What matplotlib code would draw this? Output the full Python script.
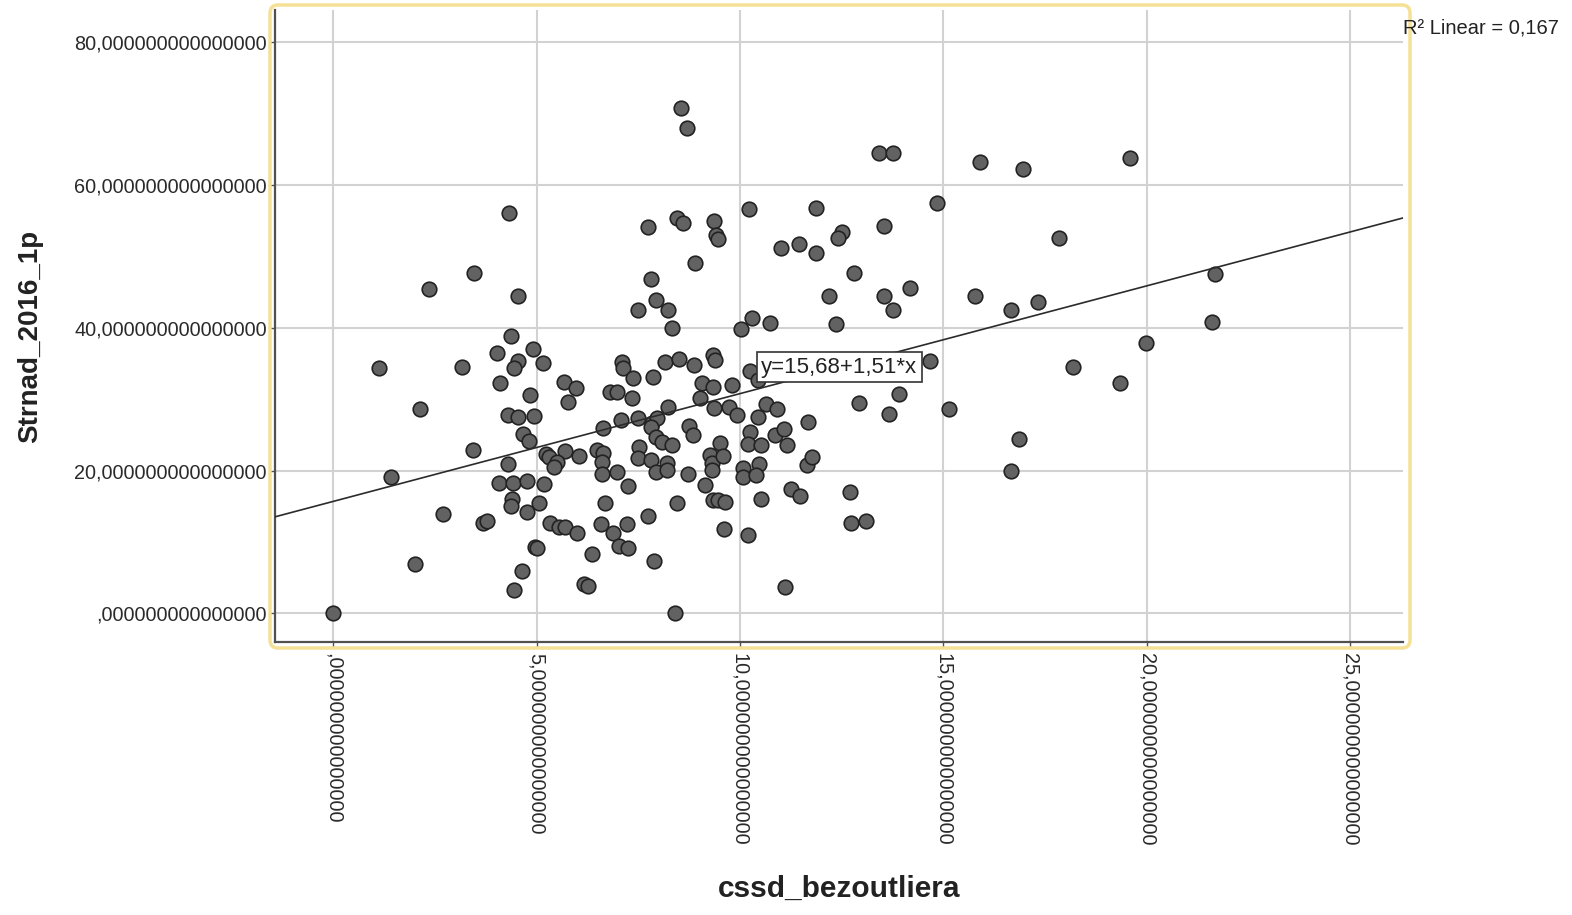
import numpy as np
import matplotlib
matplotlib.use("Agg")
import matplotlib.pyplot as plt
from matplotlib.patches import FancyBboxPatch
from matplotlib.ticker import FuncFormatter

X_NAME = "cssd_bezoutliera"
Y_NAME = "Strnad_2016_1p"
INTERCEPT = 15.68
SLOPE = 1.51
R2 = 0.167

# values
cssd = [
    4.32, 3.46, 2.35, 4.54,
    8.55, 8.70, 10.23, 11.87, 7.74, 8.46, 8.60, 9.37, 9.41, 9.46, 8.90, 11.01,
    11.46, 11.87, 12.51, 12.42, 12.81, 7.82, 7.94, 7.50, 8.23, 12.19,
    13.42, 13.77, 15.91, 16.97, 19.60, 14.85, 13.55, 14.19, 13.55, 13.77,
    15.79, 16.67, 17.34, 17.85,
    4.37, 4.03, 4.91, 4.54, 4.45, 5.16, 1.12, 3.17, 4.10, 5.68, 5.97, 4.84,
    5.77, 2.13, 4.30, 4.54, 4.94, 4.67, 4.81, 3.44, 5.23, 5.70, 6.04, 5.31,
    5.50, 5.43, 4.30,
    8.33, 10.03, 10.30, 10.74, 12.37, 7.10, 7.13, 7.37, 7.86, 8.16, 8.50, 8.87,
    9.34, 9.39, 10.25, 10.45, 6.81, 6.98, 7.35, 9.07, 9.34, 9.81, 9.02, 8.23,
    9.37, 9.73, 9.93, 10.64, 10.92, 10.45, 11.68, 12.93, 6.63, 7.08, 7.50, 7.84,
    7.96, 7.82, 7.94, 8.09, 8.33, 8.75, 8.85, 9.51, 10.25, 10.20, 10.52, 10.87,
    11.09, 11.16, 6.49, 6.63, 6.61, 7.52, 7.50, 7.82, 8.21, 9.27, 9.32, 9.59,
    10.08, 10.47, 11.65, 11.78,
    14.68, 18.20, 19.35, 19.99, 13.92, 13.67, 15.15, 16.87, 16.67,
    1.42, 4.08, 4.42, 4.77, 5.18, 4.40, 4.37, 4.77, 5.06, 2.70, 3.68, 3.78,
    5.33, 5.55, 5.70, 6.00, 4.96, 5.01, 2.01, 4.64, 4.45, 0.00,
    6.61, 6.98, 7.94, 8.21, 8.73, 9.32, 10.08, 10.40, 7.25, 9.14, 12.71, 6.68,
    8.46, 9.34, 9.46, 9.64, 10.52, 11.26, 11.48, 12.74, 6.59, 6.88, 7.23, 7.74,
    7.03, 7.25, 9.61, 10.20, 6.36, 7.89, 6.17, 6.27, 11.11, 8.41,
    13.10, 21.69, 21.62,
]
strnad = [
    56.10, 47.69, 45.45, 44.47,
    70.82, 68.02, 56.66, 56.80, 54.14, 55.40, 54.70, 54.98, 53.02, 52.46, 49.10, 51.20,
    51.76, 50.50, 53.44, 52.60, 47.69, 46.85, 43.91, 42.51, 42.51, 44.47,
    64.51, 64.51, 63.25, 62.27, 63.81, 57.50, 54.28, 45.59, 44.47, 42.51,
    44.47, 42.51, 43.63, 52.60,
    38.86, 36.48, 37.04, 35.36, 34.38, 35.08, 34.38, 34.52, 32.28, 32.42, 31.58, 30.60,
    29.61, 28.63, 27.79, 27.51, 27.65, 25.13, 24.15, 22.89, 22.33, 22.75, 22.05, 21.91,
    21.21, 20.50, 20.92,
    39.99, 39.85, 41.39, 40.69, 40.55, 35.22, 34.38, 32.98, 33.12, 35.22, 35.64, 34.80,
    36.20, 35.50, 33.96, 32.70, 31.02, 31.02, 30.18, 32.28, 31.72, 32.00, 30.18, 28.91,
    28.77, 28.91, 27.79, 29.33, 28.63, 27.51, 26.81, 29.47, 25.97, 27.09, 27.37, 26.67,
    27.37, 26.11, 24.71, 24.01, 23.59, 26.25, 24.99, 23.87, 25.41, 23.73, 23.59, 24.99,
    25.83, 23.59, 22.89, 22.47, 21.21, 23.31, 21.77, 21.49, 21.07, 22.19, 21.07, 22.05,
    20.36, 20.92, 20.78, 21.91,
    35.36, 34.52, 32.28, 37.88, 30.74, 27.93, 28.63, 24.43, 19.94,
    19.10, 18.26, 18.26, 18.54, 18.12, 16.02, 15.04, 14.20, 15.46, 13.92, 12.66, 12.94,
    12.66, 12.10, 12.10, 11.25, 9.29, 9.15, 6.91, 5.93, 3.27, 0.00,
    19.52, 19.80, 19.80, 20.08, 19.52, 20.08, 19.10, 19.38, 17.84, 17.98, 17.00, 15.46,
    15.46, 15.88, 15.88, 15.60, 16.02, 17.42, 16.44, 12.66, 12.52, 11.25, 12.52, 13.64,
    9.43, 9.15, 11.81, 10.97, 8.31, 7.33, 4.11, 3.83, 3.69, 0.00,
    12.94, 47.55, 40.83,
]

x_ticks = [0, 5, 10, 15, 20, 25]
y_ticks = [0, 20, 40, 60, 80]


def spss_fmt(v, pos=None):
    s = f"{v:.15f}".replace(".", ",")
    if s.startswith("0,"):
        s = s[1:]
    return s


plt.rcParams["font.family"] = ["Liberation Sans", "DejaVu Sans"]

fig = plt.figure(figsize=(15.72, 9.15), dpi=100)
ax = fig.add_axes([0.175, 0.2984, 0.7176, 0.6907])

ax.set_xlim(-1.43, 26.31)
ax.set_ylim(-4.02, 84.55)
ax.set_xticks(x_ticks)
ax.set_yticks(y_ticks)
ax.xaxis.set_major_formatter(FuncFormatter(spss_fmt))
ax.yaxis.set_major_formatter(FuncFormatter(spss_fmt))
ax.grid(True, color="#d2d2d2", linewidth=1.5)
ax.set_axisbelow(True)

for side in ("top", "right"):
    ax.spines[side].set_visible(False)
for side in ("left", "bottom"):
    ax.spines[side].set_color("#505050")
    ax.spines[side].set_linewidth(1.6)

ax.tick_params(axis="both", length=4, width=1, color="#505050",
               labelsize=14.3, labelcolor="#2a2a2a")
ax.tick_params(axis="x", labelrotation=-90, pad=4)
ax.tick_params(axis="y", pad=2)

ax.scatter(cssd, strnad, s=110, facecolor="#626262", edgecolor="#222222",
           linewidth=1.2, zorder=3)

xs = np.array(ax.get_xlim())
ax.plot(xs, INTERCEPT + SLOPE * xs, color="#2b2b2b", linewidth=1.2, zorder=4)

eq = f"y={INTERCEPT:.2f}+{SLOPE:.2f}*x".replace(".", ",")
ax.text(10.52, 34.5, eq, ha="left", va="center", fontsize=16, color="#222222",
        zorder=5, bbox=dict(boxstyle="square,pad=0.2", fc="white", ec="#333333", lw=1.2))

fig.text(0.8925, 0.9694, f"R² Linear = {R2:.3f}".replace(".", ","),
         ha="left", va="center", fontsize=14.5, color="#222222")

fig.text(0.5337, 0.0284, X_NAME, ha="center", va="center",
         fontsize=21.5, fontweight="bold", color="#222222")
fig.text(0.0191, 0.6328, Y_NAME, ha="center", va="center", rotation=90,
         fontsize=20, fontweight="bold", color="#222222")

frame = FancyBboxPatch((2.70, 2.67), 11.40, 6.43,
                       boxstyle="round,pad=0,rounding_size=0.08",
                       transform=fig.dpi_scale_trans, fill=False,
                       edgecolor="#f5e196", linewidth=2.5)
fig.add_artist(frame)

fig.savefig("out.png", dpi=100)
plt.close(fig)
